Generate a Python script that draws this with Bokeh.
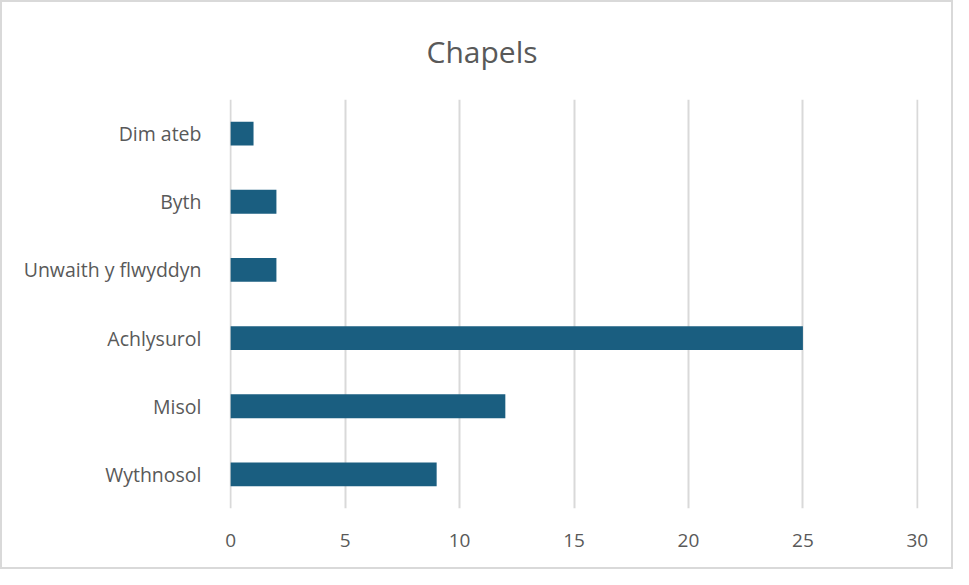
from bokeh.plotting import figure
from bokeh.models import FixedTicker, ColumnDataSource
from bokeh.embed import file_html
from bokeh.resources import INLINE

categories = ["Wythnosol", "Misol", "Achlysurol", "Unwaith y flwyddyn", "Byth", "Dim ateb"]
values = [9, 12, 25, 2, 2, 1]
x_ticks = [0, 5, 10, 15, 20, 25, 30]

FONT = "Open Sans"
TXT = "#595959"

src = ColumnDataSource(dict(cat=categories, val=values))

W, H = 953, 569
ML, MR, MT, MB = 227, 37, 97, 63

p = figure(width=W, height=H, y_range=categories, x_range=(-0.05, 30.05),
           output_backend="svg", toolbar_location=None,
           min_border_left=ML, min_border_right=MR, min_border_top=MT, min_border_bottom=MB,
           title="Chapels")

p.title.align = "left"
p.title.offset = 197
p.title.vertical_align = "top"
p.title.text_font = FONT
p.title.text_font_size = "30px"
p.title.text_font_style = "normal"
p.title.text_color = TXT
p.title.standoff = 52

p.hbar(y="cat", right="val", left=0, height=0.35, source=src,
       fill_color="#1a5e80", line_color=None)

p.xaxis.ticker = FixedTicker(ticks=x_ticks)
p.xaxis.axis_line_color = None
p.xaxis.major_tick_line_color = None
p.xaxis.minor_tick_line_color = None
p.xaxis.major_label_text_font = FONT
p.xaxis.major_label_text_font_size = "19px"
p.xaxis.major_label_text_color = TXT
p.xaxis.major_label_standoff = 19

p.yaxis.axis_line_color = None
p.yaxis.major_tick_line_color = None
p.yaxis.minor_tick_line_color = None
p.yaxis.major_label_text_font = FONT
p.yaxis.major_label_text_font_size = "19.5px"
p.yaxis.major_label_text_color = TXT
p.yaxis.major_label_standoff = 22

p.ygrid.grid_line_color = None
p.xgrid.grid_line_color = "#d9d9d9"
p.xgrid.grid_line_width = 2
p.outline_line_color = None

p.styles = {"border": "2px solid #d9d9d9", "box-sizing": "border-box"}

open("out.html", "w").write(file_html(p, INLINE))
